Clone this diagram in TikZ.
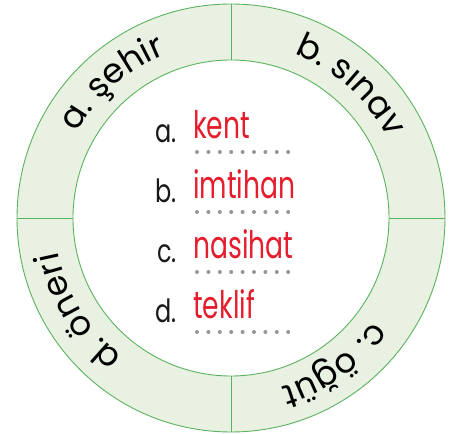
\documentclass[tikz,border=0pt]{standalone}
\usepackage{fontspec}
\setmainfont{Poppins}
\newfontfamily\narrowfamily[FakeStretch=0.75]{Poppins}
\newfontfamily\answerfamily[FakeStretch=0.7]{Poppins}
\usetikzlibrary{positioning,decorations.text}

\definecolor{ringgreen}{RGB}{92,178,94}
\definecolor{ringfill}{RGB}{232,241,226}
\definecolor{answerred}{RGB}{228,30,45}
\definecolor{dotgray}{RGB}{150,150,150}
\newcommand{\ringfont}{\fontsize{34}{36}\selectfont}
\newcommand{\letterfont}{\narrowfamily\fontsize{32}{34}\selectfont}
\newcommand{\answerfont}{\answerfamily\fontsize{38}{40}\selectfont}

\begin{document}
\begin{tikzpicture}
\tikzstyle{ring}=[draw=ringgreen, line width=0.9pt]
\tikzstyle{letter}=[inner sep=0pt, text=black!90, font=\letterfont]
\tikzstyle{answer}=[inner sep=0pt, text=answerred, font=\answerfont]
\tikzstyle{dots}=[draw=dotgray, line width=4pt, line cap=round, dash pattern=on 0pt off 11.4pt]
\tikzstyle{ringtext}=[decorate, decoration={text along path, text align={fit to path}}]

\useasboundingbox (-231pt,-216pt) rectangle (228pt,218pt);

%% Ring
\fill[ringfill, ring] (0,0) circle (214pt);
\fill[white, ring] (0,0) circle (158pt);
\draw[ring] (90:158pt) -- (90:214pt);
\draw[ring] (0:158pt) -- (0:214pt);
\draw[ring] (270:158pt) -- (270:214pt);
\draw[ring] (180:158pt) -- (180:214pt);

%% Words on the ring
\path[ringtext, decoration={text={|\ringfont|a. şehir}}] (151:176pt) arc[start angle=151, end angle=112, radius=176pt];
\path[ringtext, decoration={text={|\ringfont|b. sınav}}] (69:176pt) arc[start angle=69, end angle=29, radius=176pt];
\path[ringtext, decoration={text={|\ringfont|c. öğüt}}] (-36:176pt) arc[start angle=-36, end angle=-72, radius=176pt];
\path[ringtext, decoration={text={|\ringfont|d. öneri}}] (232:176pt) arc[start angle=232, end angle=191, radius=176pt];

%% Word list
\node[answer, anchor=base west] (ans_a) at (-38pt,79pt) {kent};
\node[answer, anchor=base west] (ans_b) [below=60pt of ans_a.base west, anchor=base west] {imtihan};
\node[answer, anchor=base west] (ans_c) [below=60pt of ans_b.base west, anchor=base west] {nasihat};
\node[answer, anchor=base west] (ans_d) [below=60pt of ans_c.base west, anchor=base west] {teklif};

\node[letter] (lbl_a) [left=16pt of ans_a.base west, anchor=base east, yshift=-4pt] {a.};
\node[letter] (lbl_b) [left=16pt of ans_b.base west, anchor=base east, yshift=-4pt] {b.};
\node[letter] (lbl_c) [left=16pt of ans_c.base west, anchor=base east, yshift=-4pt] {c.};
\node[letter] (lbl_d) [left=16pt of ans_d.base west, anchor=base east, yshift=-4pt] {d.};

% dotted lines to write on
\draw[dots] ([xshift=4pt, yshift=-13pt]ans_a.base west) -- ++(91.5pt,0);
\draw[dots] ([xshift=4pt, yshift=-13pt]ans_b.base west) -- ++(91.5pt,0);
\draw[dots] ([xshift=4pt, yshift=-13pt]ans_c.base west) -- ++(91.5pt,0);
\draw[dots] ([xshift=4pt, yshift=-13pt]ans_d.base west) -- ++(91.5pt,0);
\end{tikzpicture}
\end{document}
